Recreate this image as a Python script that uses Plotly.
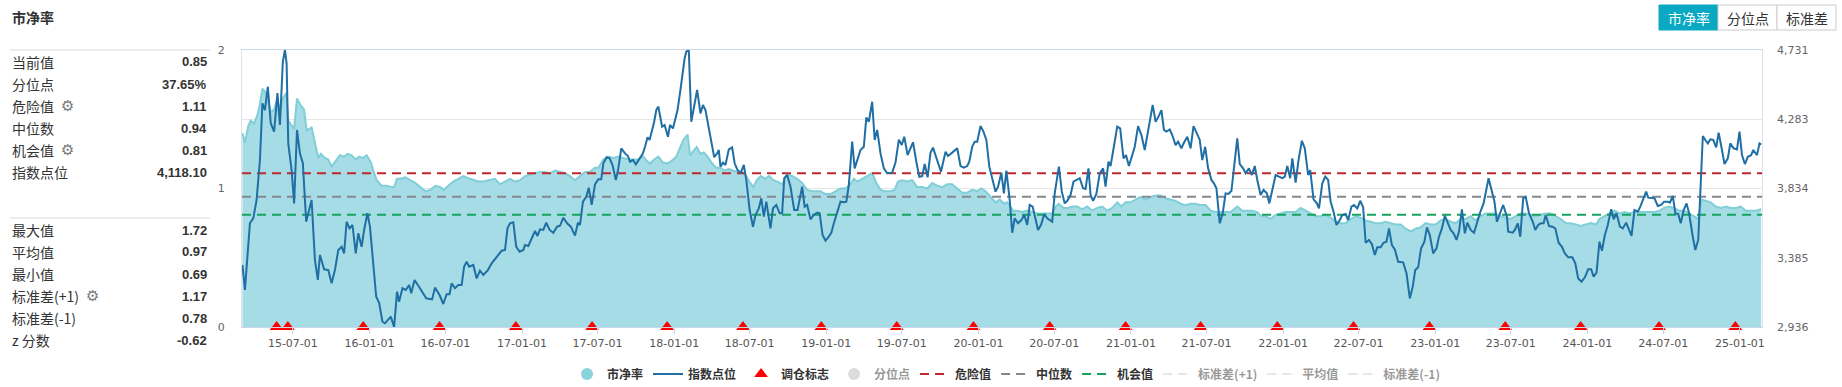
import plotly.graph_objects as go
import pandas as pd

# ---------------- data ----------------
index_dates = [
    "2015-03-02","2015-03-08","2015-03-20","2015-03-28","2015-04-05","2015-04-13","2015-04-19","2015-04-25","2015-05-02","2015-05-09",
    "2015-05-17","2015-05-25","2015-05-31","2015-06-07","2015-06-12","2015-06-16","2015-06-20","2015-06-28","2015-07-04","2015-07-11",
    "2015-07-18","2015-07-25","2015-08-02","2015-08-15","2015-08-23","2015-08-30","2015-09-04","2015-09-14","2015-09-24","2015-10-02",
    "2015-10-10","2015-10-18","2015-10-26","2015-11-01","2015-11-07","2015-11-14","2015-11-21","2015-11-29","2015-12-05","2015-12-13",
    "2015-12-19","2015-12-27",
    "2016-01-02","2016-01-10","2016-01-17","2016-01-24","2016-02-01","2016-02-07","2016-02-21","2016-02-29","2016-03-07","2016-03-12",
    "2016-03-20","2016-03-28","2016-04-05","2016-04-10","2016-04-18","2016-05-01","2016-05-16","2016-05-30","2016-06-06","2016-06-17",
    "2016-06-26","2016-07-04","2016-07-11","2016-07-16","2016-07-24","2016-08-01","2016-08-09","2016-08-15","2016-08-21","2016-08-27",
    "2016-09-06","2016-09-14","2016-09-22","2016-09-30","2016-10-11","2016-10-20","2016-11-01","2016-11-13","2016-11-21","2016-11-27",
    "2016-12-03","2016-12-11","2016-12-18","2016-12-26",
    "2017-01-04","2017-01-08","2017-01-16","2017-01-25","2017-02-01","2017-02-07","2017-02-13","2017-02-21","2017-02-28","2017-03-08",
    "2017-03-17","2017-03-26","2017-04-02","2017-04-10","2017-04-19","2017-04-28","2017-05-08","2017-05-15","2017-05-20","2017-05-27",
    "2017-06-04","2017-06-10","2017-06-17","2017-06-25","2017-07-03","2017-07-10","2017-07-15","2017-07-23","2017-07-30","2017-08-06",
    "2017-08-14","2017-08-20","2017-08-27","2017-09-05","2017-09-12","2017-09-17","2017-09-24","2017-10-01","2017-10-10","2017-10-18",
    "2017-10-23","2017-10-29","2017-11-03","2017-11-08","2017-11-14","2017-11-19","2017-11-24","2017-12-03","2017-12-09","2017-12-17",
    "2017-12-22","2017-12-29",
    "2018-01-03","2018-01-09","2018-01-16","2018-01-21","2018-01-26","2018-01-30","2018-02-05","2018-02-11","2018-02-19","2018-02-25",
    "2018-03-05","2018-03-11","2018-03-17","2018-03-25","2018-04-02","2018-04-07","2018-04-14","2018-04-18","2018-04-22","2018-04-28",
    "2018-05-04","2018-05-12","2018-05-20","2018-05-26","2018-06-02","2018-06-10","2018-06-17","2018-06-23","2018-07-01","2018-07-09",
    "2018-07-15","2018-07-23","2018-07-29","2018-08-04","2018-08-10","2018-08-20","2018-08-26","2018-09-03","2018-09-11","2018-09-17",
    "2018-09-22","2018-09-29","2018-10-07","2018-10-16","2018-10-24","2018-11-04","2018-11-10","2018-11-16","2018-11-24","2018-12-02",
    "2018-12-10","2018-12-16","2018-12-23","2018-12-30",
    "2019-01-04","2019-01-13","2019-01-19","2019-01-27","2019-02-04","2019-02-12","2019-02-18","2019-02-24","2019-03-04","2019-03-10",
    "2019-03-16","2019-03-24","2019-04-01","2019-04-07","2019-04-13","2019-04-21","2019-04-27","2019-05-03","2019-05-11","2019-05-19",
    "2019-05-27","2019-06-08","2019-06-16","2019-06-24","2019-07-01","2019-07-07","2019-07-15","2019-07-28","2019-08-05","2019-08-12",
    "2019-08-19","2019-08-25","2019-09-01","2019-09-08","2019-09-14","2019-09-24","2019-10-03","2019-10-14","2019-10-20","2019-10-30",
    "2019-11-11","2019-11-19","2019-11-27","2019-12-05","2019-12-10","2019-12-17","2019-12-23","2019-12-29",
    "2020-01-06","2020-01-13","2020-01-20","2020-01-27","2020-02-03","2020-02-11","2020-02-17","2020-02-25","2020-03-02","2020-03-08",
    "2020-03-16","2020-03-22","2020-03-28","2020-04-05","2020-04-13","2020-04-20","2020-04-27","2020-05-03","2020-05-10","2020-05-17",
    "2020-05-23","2020-05-30","2020-06-07","2020-06-14","2020-06-26","2020-07-02","2020-07-08","2020-07-12","2020-07-19","2020-07-26",
    "2020-08-01","2020-08-09","2020-08-16","2020-08-24","2020-08-31","2020-09-08","2020-09-14","2020-09-21","2020-09-26","2020-10-02",
    "2020-10-10","2020-10-18","2020-10-26","2020-11-01","2020-11-08","2020-11-13","2020-11-21","2020-11-29","2020-12-06","2020-12-14",
    "2020-12-20","2020-12-27",
    "2021-01-04","2021-01-10","2021-01-18","2021-01-26","2021-02-03","2021-02-09","2021-02-15","2021-02-22","2021-03-01","2021-03-08",
    "2021-03-15","2021-03-21","2021-03-27","2021-04-04","2021-04-10","2021-04-18","2021-04-24","2021-05-02","2021-05-08","2021-05-16",
    "2021-05-24","2021-05-31","2021-06-08","2021-06-15","2021-06-21","2021-06-28","2021-07-05","2021-07-13","2021-07-19","2021-07-25",
    "2021-08-02","2021-08-09","2021-08-16","2021-08-23","2021-08-30","2021-09-05","2021-09-13","2021-09-19","2021-09-27","2021-10-03",
    "2021-10-11","2021-10-18","2021-10-25","2021-10-31","2021-11-08","2021-11-15","2021-11-23","2021-11-29","2021-12-06","2021-12-14",
    "2021-12-22","2021-12-30",
    "2022-01-05","2022-01-11","2022-01-18","2022-01-23","2022-01-31","2022-02-07","2022-02-15","2022-02-22","2022-03-02","2022-03-07",
    "2022-03-15","2022-03-23","2022-03-28","2022-04-05","2022-04-12","2022-04-19","2022-04-25","2022-05-02","2022-05-09","2022-05-17",
    "2022-05-23","2022-05-31","2022-06-06","2022-06-14","2022-06-20","2022-06-28","2022-07-05","2022-07-12","2022-07-18","2022-07-26",
    "2022-08-02","2022-08-09","2022-08-15","2022-08-23","2022-08-30","2022-09-06","2022-09-12","2022-09-19","2022-09-26","2022-10-04",
    "2022-10-16","2022-10-24","2022-11-01","2022-11-08","2022-11-14","2022-11-21","2022-11-28","2022-12-06","2022-12-12","2022-12-19",
    "2022-12-27",
    "2023-01-04","2023-01-10","2023-01-17","2023-01-24","2023-01-31","2023-02-07","2023-02-14","2023-02-21","2023-02-27","2023-03-06",
    "2023-03-13","2023-03-19","2023-03-27","2023-04-04","2023-04-11","2023-04-18","2023-04-27","2023-05-03","2023-05-09","2023-05-15",
    "2023-05-23","2023-05-29","2023-06-06","2023-06-13","2023-06-22","2023-06-25","2023-07-06","2023-07-11","2023-07-18","2023-07-24",
    "2023-07-31","2023-08-06","2023-08-14","2023-08-23","2023-08-29","2023-09-05","2023-09-11","2023-09-18","2023-09-23","2023-10-01",
    "2023-10-09","2023-10-16","2023-10-24","2023-11-01","2023-11-08","2023-11-16","2023-11-26","2023-12-03","2023-12-10","2023-12-18",
    "2023-12-26",
    "2024-01-03","2024-01-10","2024-01-16","2024-01-23","2024-01-30","2024-02-05","2024-02-12","2024-02-19","2024-02-27","2024-03-04",
    "2024-03-11","2024-03-19","2024-03-26","2024-04-03","2024-04-09","2024-04-16","2024-04-23","2024-05-01","2024-05-07","2024-05-14",
    "2024-05-21","2024-05-26","2024-06-02","2024-06-10","2024-06-18","2024-06-26","2024-07-03","2024-07-12","2024-07-17","2024-07-24",
    "2024-07-30","2024-08-06","2024-08-12","2024-08-19","2024-08-26","2024-09-01","2024-09-10","2024-09-16","2024-09-23","2024-09-28",
    "2024-10-04","2024-10-10","2024-10-16","2024-10-22","2024-10-29","2024-11-05","2024-11-11","2024-11-19","2024-11-25","2024-12-03",
    "2024-12-09","2024-12-17","2024-12-25","2024-12-31",
    "2025-01-06","2025-01-13","2025-01-20","2025-01-28","2025-02-02","2025-02-11","2025-02-17","2025-02-21",
]
index_values = [
    3338,3176,3608,3640,3759,4018,4386,4342,4493,4256,
    4202,4452,4245,4655,4731,4645,4126,3953,3737,4213,
    4061,3997,3618,3759,3370,3241,3403,3310,3305,3219,
    3305,3435,3456,3413,3618,3575,3597,3413,3543,3456,
    3565,3673,
    3586,3349,3132,3093,2970,2960,3003,2936,3165,3100,
    3187,3176,3208,3154,3241,3187,3122,3115,3191,3143,
    3085,3148,3148,3219,3187,3208,3208,3327,3359,3327,
    3338,3251,3301,3273,3305,3349,3392,3430,3435,3575,
    3608,3614,3456,3424,
    3435,3467,3461,3521,3558,3526,3569,3565,3612,3565,
    3547,3586,3592,3644,3608,3586,3528,3612,3597,3748,
    3780,3839,3727,3860,3893,3893,3997,4036,4029,3986,
    3889,3964,4094,4061,4044,4007,4018,3990,4029,4061,
    4104,4165,4148,4202,4266,4342,4364,4234,4245,4169,
    4245,4223,
    4277,4342,4472,4590,4677,4720,4731,4266,4375,4472,
    4320,4375,4342,4223,4104,4036,4061,4083,3975,4001,
    3986,4087,4100,3997,3953,3936,3986,3889,3694,3586,
    3662,3705,3770,3651,3748,3575,3705,3727,3673,3673,
    3900,3921,3845,3694,3694,3845,3716,3727,3634,3662,
    3677,3673,3532,3495,
    3511,3547,3608,3673,3748,3744,3748,3856,4137,3964,
    4018,4083,4104,4294,4266,4396,4148,4213,4061,3964,
    3932,3936,4002,4150,4115,4169,4050,4133,4007,3910,
    3914,3992,3906,4066,4098,4007,3942,4072,4044,4066,
    4094,3979,3968,3979,4007,4104,4137,4137,
    4238,4202,4148,3975,3889,3813,3845,3936,3802,3949,
    3759,3547,3640,3608,3629,3662,3597,3727,3716,3629,
    3565,3597,3668,3640,3618,3802,3910,3975,3813,3737,
    3754,3791,3878,3889,3900,3835,3830,3964,3791,3754,
    3798,3932,3964,3845,4007,3979,4104,4234,4223,4029,
    4050,3979,
    4050,4104,4238,4180,4083,4180,4277,4375,4266,4299,
    4342,4213,4202,4216,4180,4115,4137,4094,4130,4169,
    4094,4238,4191,4148,4018,4104,3964,3889,3867,3835,
    3608,3673,3802,3798,3819,3986,4159,3992,3964,3932,
    3964,3921,3979,3889,3791,3824,3802,3737,3824,3921,
    3910,3900,
    3910,3979,3900,4029,3871,4018,4143,4094,3921,3953,
    3763,3737,3705,3867,3910,3889,3748,3683,3597,3629,
    3662,3668,3629,3716,3727,3705,3754,3712,3482,3500,
    3472,3403,3452,3452,3482,3489,3575,3467,3439,3359,
    3355,3284,3122,3197,3305,3323,3446,3489,3582,3532,
    3413,
    3446,3521,3575,3657,3608,3565,3543,3500,3554,3699,
    3543,3612,3565,3547,3608,3673,3737,3824,3900,3835,
    3750,3618,3670,3727,3651,3554,3547,3565,3608,3521,
    3770,3780,3673,3618,3565,3597,3608,3608,3662,3590,
    3586,3575,3482,3456,3413,3388,3388,3349,3251,3230,
    3258,
    3310,3310,3262,3288,3489,3430,3532,3597,3699,3634,
    3673,3586,3575,3612,3575,3526,3694,3683,3716,3763,
    3813,3774,3770,3770,3720,3727,3748,3748,3742,3785,
    3673,3668,3608,3694,3737,3673,3521,3435,3500,3780,
    4174,4148,4126,4152,4148,4100,4195,4083,3992,4029,
    4126,4094,4087,4202,
    4050,3992,4039,4050,4083,4050,4126,4118.10,
]

pb_dates = [
    "2015-03-02","2015-03-08","2015-03-16","2015-03-22","2015-03-30","2015-04-07","2015-04-13","2015-04-19","2015-04-25","2015-05-02",
    "2015-05-09","2015-05-17","2015-05-25","2015-05-31","2015-06-07","2015-06-15","2015-06-20","2015-06-28","2015-07-04","2015-07-11",
    "2015-07-20","2015-07-28","2015-08-03","2015-08-15","2015-08-23","2015-08-31","2015-09-06","2015-09-16","2015-09-24","2015-10-02",
    "2015-10-10","2015-10-22","2015-11-01","2015-11-09","2015-11-19","2015-11-29","2015-12-07","2015-12-17","2015-12-25",
    "2016-01-04","2016-01-10","2016-01-18","2016-01-30","2016-02-11","2016-02-23","2016-02-29","2016-03-07","2016-03-15","2016-03-27",
    "2016-04-08","2016-04-20","2016-05-02","2016-05-14","2016-05-26","2016-06-07","2016-06-19","2016-06-27","2016-07-08","2016-07-20",
    "2016-08-01","2016-08-13","2016-08-29","2016-09-06","2016-09-18","2016-09-30","2016-10-16","2016-10-28","2016-11-09","2016-11-21",
    "2016-12-03","2016-12-15","2016-12-27",
    "2017-01-08","2017-01-20","2017-02-01","2017-02-13","2017-02-25","2017-03-09","2017-03-21","2017-04-02","2017-04-14","2017-04-26",
    "2017-05-08","2017-05-20","2017-06-01","2017-06-13","2017-06-25","2017-07-03","2017-07-15","2017-07-27","2017-08-08","2017-08-20",
    "2017-09-01","2017-09-13","2017-09-25","2017-10-07","2017-10-19","2017-10-27","2017-11-04","2017-11-14","2017-11-24","2017-12-04",
    "2017-12-16","2017-12-26",
    "2018-01-06","2018-01-15","2018-01-23","2018-02-02","2018-02-08","2018-02-16","2018-02-24","2018-03-05","2018-03-13","2018-03-22",
    "2018-04-02","2018-04-12","2018-04-22","2018-05-01","2018-05-12","2018-05-22","2018-06-01","2018-06-13","2018-06-23","2018-07-02",
    "2018-07-10","2018-07-18","2018-07-28","2018-08-07","2018-08-17","2018-08-27","2018-09-06","2018-09-17","2018-09-29","2018-10-11",
    "2018-10-23","2018-11-04","2018-11-16","2018-11-28","2018-12-10","2018-12-18","2018-12-30",
    "2019-01-11","2019-01-23","2019-02-04","2019-02-16","2019-02-28","2019-03-08","2019-03-16","2019-03-28","2019-04-09","2019-04-21",
    "2019-05-01","2019-05-11","2019-05-23","2019-06-04","2019-06-14","2019-06-22","2019-07-02","2019-07-14","2019-07-26","2019-08-07",
    "2019-08-19","2019-08-31","2019-09-12","2019-09-24","2019-10-06","2019-10-18","2019-10-30","2019-11-11","2019-11-23","2019-12-05",
    "2019-12-17","2019-12-29",
    "2020-01-08","2020-01-18","2020-01-30","2020-02-11","2020-02-21","2020-03-02","2020-03-10","2020-03-16","2020-03-24","2020-04-03",
    "2020-04-15","2020-04-27","2020-05-09","2020-05-21","2020-06-02","2020-06-14","2020-06-26","2020-07-04","2020-07-12","2020-07-23",
    "2020-08-03","2020-08-13","2020-08-25","2020-09-06","2020-09-18","2020-09-30","2020-10-12","2020-10-24","2020-11-05","2020-11-17",
    "2020-11-29","2020-12-09","2020-12-19","2020-12-31",
    "2021-01-12","2021-01-24","2021-02-05","2021-02-17","2021-03-01","2021-03-13","2021-03-25","2021-04-06","2021-04-18","2021-04-30",
    "2021-05-12","2021-05-24","2021-06-05","2021-06-17","2021-06-29","2021-07-11","2021-07-23","2021-08-04","2021-08-16","2021-08-28",
    "2021-09-13","2021-09-25","2021-10-07","2021-10-19","2021-10-31","2021-11-10","2021-11-20","2021-12-02","2021-12-14","2021-12-26",
    "2022-01-07","2022-01-19","2022-01-31","2022-02-12","2022-02-24","2022-03-08","2022-03-20","2022-04-01","2022-04-13","2022-04-25",
    "2022-05-07","2022-05-19","2022-05-31","2022-06-12","2022-06-24","2022-07-06","2022-07-18","2022-07-30","2022-08-11","2022-08-23",
    "2022-09-04","2022-09-16","2022-09-28","2022-10-10","2022-10-22","2022-11-03","2022-11-15","2022-11-27","2022-12-09","2022-12-21",
    "2023-01-02","2023-01-14","2023-01-26","2023-02-07","2023-02-19","2023-03-03","2023-03-15","2023-03-27","2023-04-08","2023-04-20",
    "2023-05-02","2023-05-14","2023-05-26","2023-06-07","2023-06-19","2023-07-01","2023-07-13","2023-07-25","2023-08-06","2023-08-18",
    "2023-08-30","2023-09-11","2023-09-23","2023-10-05","2023-10-17","2023-10-29","2023-11-10","2023-11-22","2023-12-04","2023-12-16",
    "2023-12-28",
    "2024-01-10","2024-01-22","2024-01-30","2024-02-11","2024-02-23","2024-03-06","2024-03-18","2024-03-30","2024-04-11","2024-04-23",
    "2024-05-05","2024-05-17","2024-05-29","2024-06-10","2024-06-22","2024-07-03","2024-07-15","2024-07-27","2024-08-08","2024-08-20",
    "2024-09-01","2024-09-13","2024-09-23","2024-10-01","2024-10-11","2024-10-23","2024-11-04","2024-11-16","2024-11-28","2024-12-10",
    "2024-12-22",
    "2025-01-03","2025-01-15","2025-01-27","2025-02-08","2025-02-21",
]
pb_values = [
    1.40,1.33,1.45,1.49,1.47,1.53,1.61,1.72,1.70,1.64,
    1.55,1.57,1.65,1.54,1.65,1.69,1.49,1.45,1.43,1.65,
    1.60,1.57,1.42,1.44,1.33,1.22,1.25,1.22,1.21,1.16,
    1.19,1.24,1.23,1.25,1.24,1.21,1.23,1.22,1.24,
    1.19,1.13,1.06,1.02,1.02,1.01,1.01,1.07,1.07,1.08,
    1.06,1.04,1.01,0.98,0.99,1.02,1.01,0.99,1.02,1.05,
    1.07,1.09,1.07,1.06,1.05,1.05,1.06,1.07,1.03,1.05,
    1.07,1.05,1.06,
    1.09,1.10,1.11,1.12,1.12,1.11,1.13,1.12,1.11,1.09,
    1.06,1.09,1.12,1.12,1.15,1.15,1.21,1.23,1.22,1.23,
    1.22,1.21,1.21,1.21,1.23,1.20,1.18,1.21,1.23,1.19,
    1.18,1.20,
    1.23,1.29,1.35,1.39,1.24,1.27,1.30,1.25,1.26,1.23,
    1.18,1.15,1.15,1.13,1.14,1.13,1.12,1.12,1.09,1.04,
    1.01,1.06,1.09,1.07,1.09,1.06,1.05,1.03,1.10,1.09,
    1.07,1.04,0.99,0.98,0.98,0.98,0.96,
    0.96,0.98,1.00,1.00,1.03,1.07,1.05,1.07,1.09,1.11,
    1.04,0.99,0.98,0.98,0.99,1.05,1.06,1.05,1.06,1.01,
    1.01,1.00,1.04,1.02,1.01,1.03,1.03,1.00,0.97,0.97,
    0.99,0.98,
    1.00,0.98,0.94,0.90,0.92,0.89,0.90,0.87,0.84,0.84,
    0.83,0.84,0.83,0.82,0.82,0.82,0.82,0.87,0.89,0.86,
    0.86,0.87,0.87,0.85,0.87,0.84,0.86,0.87,0.84,0.86,
    0.90,0.87,0.90,0.90,
    0.92,0.94,0.92,0.94,0.95,0.95,0.93,0.92,0.91,0.89,
    0.88,0.89,0.89,0.88,0.88,0.84,0.83,0.83,0.83,0.83,
    0.87,0.84,0.84,0.84,0.83,0.80,0.80,0.78,0.81,0.82,
    0.83,0.83,0.83,0.86,0.84,0.82,0.80,0.80,0.81,0.79,
    0.76,0.75,0.75,0.78,0.80,0.79,0.77,0.76,0.75,0.75,
    0.76,0.75,0.74,0.74,0.71,0.69,0.71,0.72,0.75,0.74,
    0.74,0.77,0.78,0.76,0.75,0.78,0.78,0.80,0.77,0.80,
    0.82,0.82,0.82,0.80,0.79,0.78,0.80,0.82,0.82,0.81,
    0.80,0.81,0.82,0.82,0.80,0.78,0.75,0.75,0.74,0.73,
    0.74,
    0.75,0.74,0.78,0.80,0.82,0.84,0.82,0.83,0.82,0.83,
    0.83,0.83,0.83,0.83,0.84,0.86,0.87,0.86,0.84,0.84,
    0.82,0.80,0.78,0.92,0.91,0.90,0.87,0.86,0.87,0.86,
    0.86,
    0.87,0.84,0.84,0.84,0.85,
]

rebalance_dates = [
    "2015-05-23","2015-06-19","2015-12-17","2016-06-17","2016-12-17","2017-06-18","2017-12-15",
    "2018-06-15","2018-12-20","2019-06-19","2019-12-20","2020-06-20","2020-12-19","2021-06-17",
    "2021-12-18","2022-06-19","2022-12-18","2023-06-18","2023-12-16","2024-06-21","2024-12-21",
]

danger_value = 1.11
median_value = 0.94
chance_value = 0.81
std_plus_value = 1.17
mean_value = 0.97
std_minus_value = 0.78

stats_top_labels = ["当前值", "分位点", "危险值", "中位数", "机会值", "指数点位"]
stats_top_values = ["0.85", "37.65%", "1.11", "0.94", "0.81", "4,118.10"]
stats_bottom_labels = ["最大值", "平均值", "最小值", "标准差(+1)", "标准差(-1)", "z 分数"]
stats_bottom_values = ["1.72", "0.97", "0.69", "1.17", "0.78", "-0.62"]

right_ticks = [2936, 3385, 3834, 4283, 4731]
x_start, x_end = "2015-03-01", "2025-02-23"

# ---------------- geometry helpers (pixels -> paper) ----------------
W, H = 1842, 387
L, R, T, B = 242, 80, 50, 60
PW, PH = W - L - R, H - T - B


def fx(px):
    return (px - L) / PW


def fy(py):
    return (T + PH - py) / PH


CJK = "'Noto Sans CJK SC', 'Microsoft YaHei', sans-serif"
NUM = "Arial, 'Liberation Sans', 'Noto Sans CJK SC', sans-serif"

teal_fill = "#a6dce5"
teal_line = "#80ced7"
index_color = "#1f6fa5"

fig = go.Figure()

# 市净率 area (no legend; legend proxy below)
fig.add_trace(go.Scatter(
    x=pb_dates, y=pb_values, mode="lines", fill="tozeroy",
    fillcolor=teal_fill, line=dict(color=teal_line, width=2),
    name="市净率", legendgroup="pb", showlegend=False, hoverinfo="x+y"))
fig.add_trace(go.Scatter(
    x=[None], y=[None], mode="markers", name="市净率", legendgroup="pb",
    marker=dict(symbol="circle", size=12, color="#8ad3dc")))

# 指数点位
fig.add_trace(go.Scatter(
    x=index_dates, y=index_values, mode="lines", yaxis="y2",
    line=dict(color=index_color, width=2), name="指数点位"))

# 调仓标志
fig.add_trace(go.Scatter(
    x=rebalance_dates, y=[0] * len(rebalance_dates), mode="markers",
    marker=dict(symbol="triangle-up", size=12, color="#ff0000"),
    cliponaxis=False, name="调仓标志"))

# 分位点 (hidden)
fig.add_trace(go.Scatter(
    x=[None], y=[None], mode="markers", name="分位点", visible="legendonly",
    marker=dict(symbol="circle", size=12, color="#bbbbbb")))

dash = "9px,6px"
for name, val, col, vis in [
    ("危险值", danger_value, "#c0282d", True),
    ("中位数", median_value, "#84898f", True),
    ("机会值", chance_value, "#16a35e", True),
    ("标准差(+1)", std_plus_value, "#cccccc", "legendonly"),
    ("平均值", mean_value, "#cccccc", "legendonly"),
    ("标准差(-1)", std_minus_value, "#cccccc", "legendonly"),
]:
    fig.add_trace(go.Scatter(
        x=[x_start, x_end], y=[val, val], mode="lines", name=name, visible=vis,
        line=dict(color=col, width=2, dash=dash)))

# ---------------- annotations / shapes ----------------
ann = []
shapes = []

ann.append(dict(x=fx(10), y=fy(17), xref="paper", yref="paper", xanchor="left", yanchor="middle",
                text="<b>市净率</b>", showarrow=False, font=dict(family=CJK, size=14, color="#333")))

for sep_y in (50, 218):
    shapes.append(dict(type="line", xref="paper", yref="paper", x0=fx(10), x1=fx(210),
                       y0=fy(sep_y), y1=fy(sep_y), line=dict(color="#dcdcdc", width=1)))

gear_after = {"危险值": 67, "机会值": 67, "标准差(+1)": 92}
for labels, values, y0 in ((stats_top_labels, stats_top_values, 62),
                           (stats_bottom_labels, stats_bottom_values, 230)):
    for i, (lab, val) in enumerate(zip(labels, values)):
        yy = y0 + 22 * i
        ann.append(dict(x=fx(10), y=fy(yy), xref="paper", yref="paper", xanchor="left", yanchor="middle",
                        text=lab, showarrow=False, font=dict(family=CJK, size=14, color="#333")))
        ann.append(dict(x=fx(209), y=fy(yy), xref="paper", yref="paper", xanchor="right", yanchor="middle",
                        text="<b>%s</b>" % val, showarrow=False, font=dict(family=NUM, size=13, color="#333")))
        if lab in gear_after:
            ann.append(dict(x=fx(gear_after[lab]), y=fy(yy), xref="paper", yref="paper", xanchor="center",
                            yanchor="middle", text="⚙", showarrow=False,
                            font=dict(family="DejaVu Sans", size=15, color="#777")))

# buttons top-right
buttons = [("市净率", 1659, 1718, True), ("分位点", 1718, 1777, False), ("标准差", 1777, 1836, False)]
for text, x0, x1, active in buttons:
    shapes.append(dict(type="rect", xref="paper", yref="paper", x0=fx(x0), x1=fx(x1), y0=fy(30), y1=fy(5),
                       fillcolor="#0aa9c3" if active else "#ffffff",
                       line=dict(color="#0aa9c3" if active else "#cccccc", width=1)))
    ann.append(dict(x=fx((x0 + x1) / 2), y=fy(17.5), xref="paper", yref="paper", xanchor="center",
                    yanchor="middle", text=text, showarrow=False,
                    font=dict(family=CJK, size=14, color="#ffffff" if active else "#333")))

tick_dates = pd.date_range("2015-07-01", "2025-01-01", freq="6MS")
tick_text = [d.strftime("%y-%m-%d") for d in tick_dates]

fig.update_layout(
    width=W, height=H,
    margin=dict(l=L, r=R, t=T, b=B, pad=0, autoexpand=False),
    paper_bgcolor="white", plot_bgcolor="white",
    font=dict(family=NUM, size=12, color="#333"),
    annotations=ann, shapes=shapes,
    hovermode="x",
    legend=dict(orientation="h", x=fx(1006), xanchor="center", y=fy(374), yanchor="middle",
                font=dict(family=CJK, size=12, color="#333", weight="bold"), itemwidth=30,
                bgcolor="rgba(0,0,0,0)", traceorder="normal"),
    xaxis=dict(type="date", range=[x_start, x_end], tickvals=list(tick_dates), ticktext=tick_text,
               showgrid=False, zeroline=False, showline=True, linecolor="#ccd6eb", mirror=True,
               ticks="outside", ticklen=6, tickcolor="#ccd6eb",
               tickfont=dict(family="DejaVu Sans", size=11, color="#555")),
    yaxis=dict(range=[0, 2], tickvals=[0, 1, 2], ticktext=["0", "1", "2"], showgrid=True,
               gridcolor="#e6e6e6", gridwidth=1, zeroline=False, showline=True, linecolor="#dde3ea",
               mirror=True, ticks="", ticklabelstandoff=14,
               tickfont=dict(family="DejaVu Sans", size=11, color="#666")),
    yaxis2=dict(overlaying="y", side="right", range=[right_ticks[0], right_ticks[-1]],
                tickvals=right_ticks, ticktext=["{:,}".format(v) for v in right_ticks],
                showgrid=True, gridcolor="#e6e6e6", zeroline=False, showline=False, ticks="",
                ticklabelstandoff=14, tickfont=dict(family="DejaVu Sans", size=11, color="#666")),
)

fig.write_html("out.html", config={"displayModeBar": False},
               post_script="document.body.style.margin='0';document.body.style.overflow='hidden';")
